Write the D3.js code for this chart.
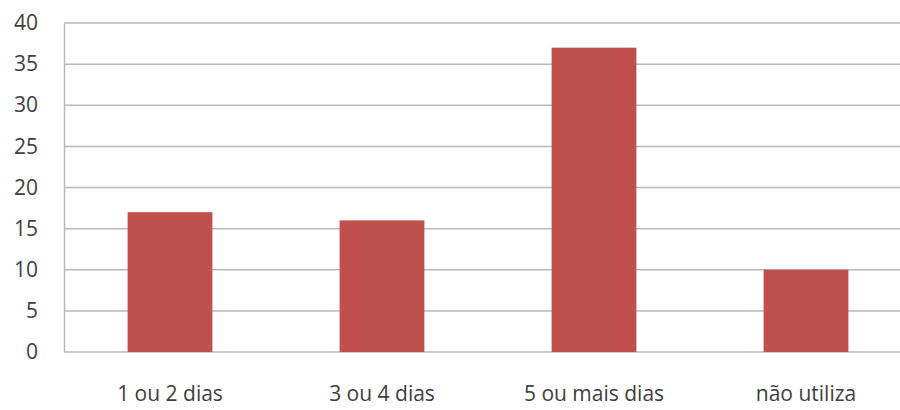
<!DOCTYPE html>
<html lang="pt">
<head>
<meta charset="utf-8">
<title>Dias de uso</title>
<script src="https://cdnjs.cloudflare.com/ajax/libs/d3/7.8.5/d3.min.js"></script>
<style>
  html, body { margin: 0; padding: 0; background: #fff; }
  svg text { font-family: "Open Sans", Lato, sans-serif; fill: #404040; }
</style>
</head>
<body>
<div id="chart"></div>
<script>
// data
const categories = ["1 ou 2 dias", "3 ou 4 dias", "5 ou mais dias", "não utiliza"];
const values = [17, 16, 37, 10];
const yTicks = [0, 5, 10, 15, 20, 25, 30, 35, 40];

const width = 900, height = 410;
const margin = { top: 23, left: 64, bottom: 58 };

const svg = d3.select("#chart").append("svg")
    .attr("width", width)
    .attr("height", height);

// band area runs a little past the right edge, like the original crop
const x = d3.scaleBand()
    .domain(categories)
    .range([margin.left, 912])
    .paddingInner(0.6)
    .paddingOuter(0.3);

const y = d3.scaleLinear()
    .domain([0, 40])
    .range([height - margin.bottom, margin.top]);

// gridlines
svg.append("g")
  .selectAll("line")
  .data(yTicks)
  .join("line")
    .attr("x1", margin.left)
    .attr("x2", width)
    .attr("y1", d => y(d))
    .attr("y2", d => y(d))
    .attr("stroke", "#b8b8b8")
    .attr("stroke-width", 1.5);

// y axis
const yAxis = svg.append("g")
    .attr("transform", "translate(" + margin.left + ",0)")
    .call(d3.axisLeft(y).tickValues(yTicks).tickSize(0).tickPadding(26));
yAxis.select(".domain").attr("stroke", "#b8b8b8").attr("stroke-width", 1.5);
yAxis.selectAll("text").attr("font-size", 21).style("fill", "#404040");

// bars
svg.append("g")
  .selectAll("rect")
  .data(values)
  .join("rect")
    .attr("x", (d, i) => x(categories[i]))
    .attr("y", d => y(d))
    .attr("width", x.bandwidth())
    .attr("height", d => y(0) - y(d))
    .attr("fill", "#c0504d");

// x axis labels
const xAxis = svg.append("g")
    .attr("transform", "translate(0," + y(0) + ")")
    .call(d3.axisBottom(x).tickSize(0).tickPadding(34));
xAxis.select(".domain").remove();
xAxis.selectAll("text").attr("font-size", 21).style("fill", "#404040");
</script>
</body>
</html>
